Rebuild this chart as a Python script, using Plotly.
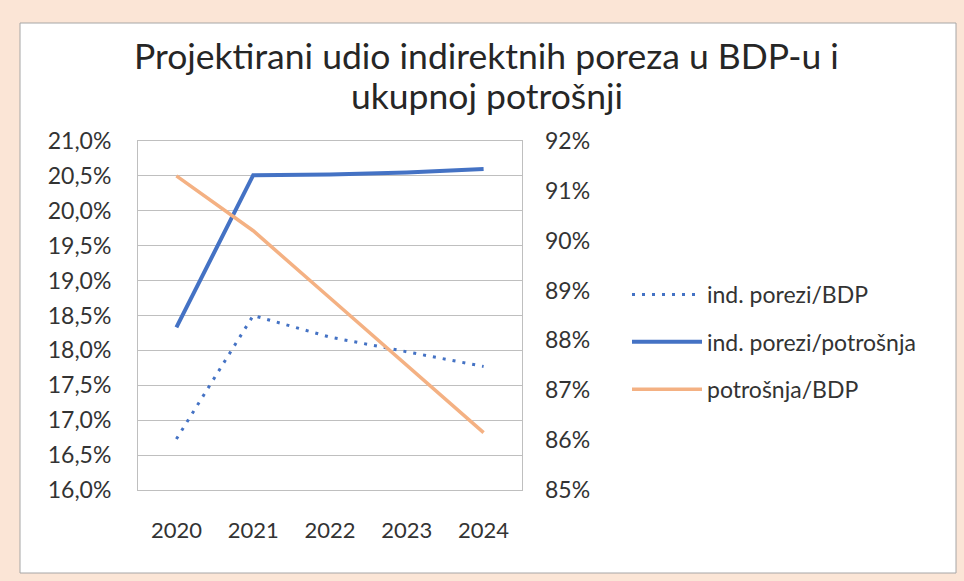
import plotly.graph_objects as go

years = ["2020", "2021", "2022", "2023", "2024"]
ind_porezi_bdp = [16.73, 18.50, 18.19, 17.98, 17.77]
ind_porezi_potrosnja = [18.33, 20.51, 20.52, 20.55, 20.60]
potrosnja_bdp = [91.30, 90.20, 88.85, 87.50, 86.15]

left_ticks = [16.0, 16.5, 17.0, 17.5, 18.0, 18.5, 19.0, 19.5, 20.0, 20.5, 21.0]
right_ticks = [85, 86, 87, 88, 89, 90, 91, 92]

title_lines = ["Projektirani udio indirektnih poreza u BDP-u i", "ukupnoj potrošnji"]

W, H = 964, 581
FONT = "Lato"
BLUE = "#4472C4"
ORANGE = "#F4B183"
TXT = "#333333"

left_text = [f"{v:.1f}".replace(".", ",") + "%" for v in left_ticks]
right_text = [f"{v:d}%" for v in right_ticks]

fig = go.Figure()
fig.add_trace(go.Scatter(
    x=years, y=ind_porezi_bdp, name="ind. porezi/BDP", mode="lines",
    line=dict(color=BLUE, width=3, dash="3px,7px"), yaxis="y", legendgroup="a"))
fig.add_trace(go.Scatter(
    x=years, y=ind_porezi_potrosnja, name="ind. porezi/potrošnja", mode="lines",
    line=dict(color=BLUE, width=4), yaxis="y", legendgroup="b"))
fig.add_trace(go.Scatter(
    x=years, y=potrosnja_bdp, name="potrošnja/BDP", mode="lines",
    line=dict(color=ORANGE, width=3.5), yaxis="y2", legendgroup="c"))

px = lambda v: v / W
py = lambda v: 1 - v / H

fig.update_layout(
    width=W, height=H,
    margin=dict(l=0, r=0, t=0, b=0, autoexpand=False),
    paper_bgcolor="#FBE5D6",
    plot_bgcolor="rgba(0,0,0,0)",
    font=dict(family=FONT, color=TXT, size=24),
    hovermode=False,
    xaxis=dict(
        domain=[px(138), px(522)], type="category", automargin=False,
        range=[-0.5, len(years) - 0.5],
        showline=True, mirror=True, linecolor="#BFBFBF", linewidth=1,
        showgrid=False, ticks="", ticklabelstandoff=21,
        tickfont=dict(size=22, color=TXT)),
    yaxis=dict(
        domain=[py(490), py(141)], range=[16, 21], automargin=False,
        tickmode="array", tickvals=left_ticks, ticktext=left_text,
        showgrid=True, gridcolor="#BFBFBF", gridwidth=1,
        showline=True, mirror=True, linecolor="#BFBFBF", linewidth=1,
        zeroline=False, ticks="", ticklabelstandoff=21,
        tickfont=dict(size=23, color=TXT)),
    yaxis2=dict(
        overlaying="y", side="right", range=[85, 92], automargin=False,
        tickmode="array", tickvals=right_ticks, ticktext=right_text,
        showgrid=False, zeroline=False, showline=False, ticks="",
        ticklabelstandoff=22,
        tickfont=dict(size=23, color=TXT)),
    legend=dict(
        x=px(627), y=py(273), xanchor="left", yanchor="top",
        bgcolor="rgba(0,0,0,0)", traceorder="grouped", tracegroupgap=14.5,
        font=dict(family=FONT, size=23, color=TXT),
        itemwidth=70),
    shapes=[dict(
        type="rect", xref="paper", yref="paper",
        x0=px(20), x1=px(956), y0=py(573), y1=py(23),
        fillcolor="white", line=dict(color="#A6A6A6", width=1), layer="below")],
    annotations=[
        dict(text=title_lines[0], x=px(486), y=py(55), xref="paper", yref="paper",
             xanchor="center", yanchor="middle", showarrow=False,
             font=dict(family=FONT, size=35.5, color="#262626")),
        dict(text=title_lines[1], x=px(487), y=py(95), xref="paper", yref="paper",
             xanchor="center", yanchor="middle", showarrow=False,
             font=dict(family=FONT, size=35.5, color="#262626")),
    ],
)

fig.write_html(
    "out.html",
    config={"displayModeBar": False},
    post_script="document.body.style.margin='0';document.body.style.padding='0';document.body.style.overflow='hidden';",
)
